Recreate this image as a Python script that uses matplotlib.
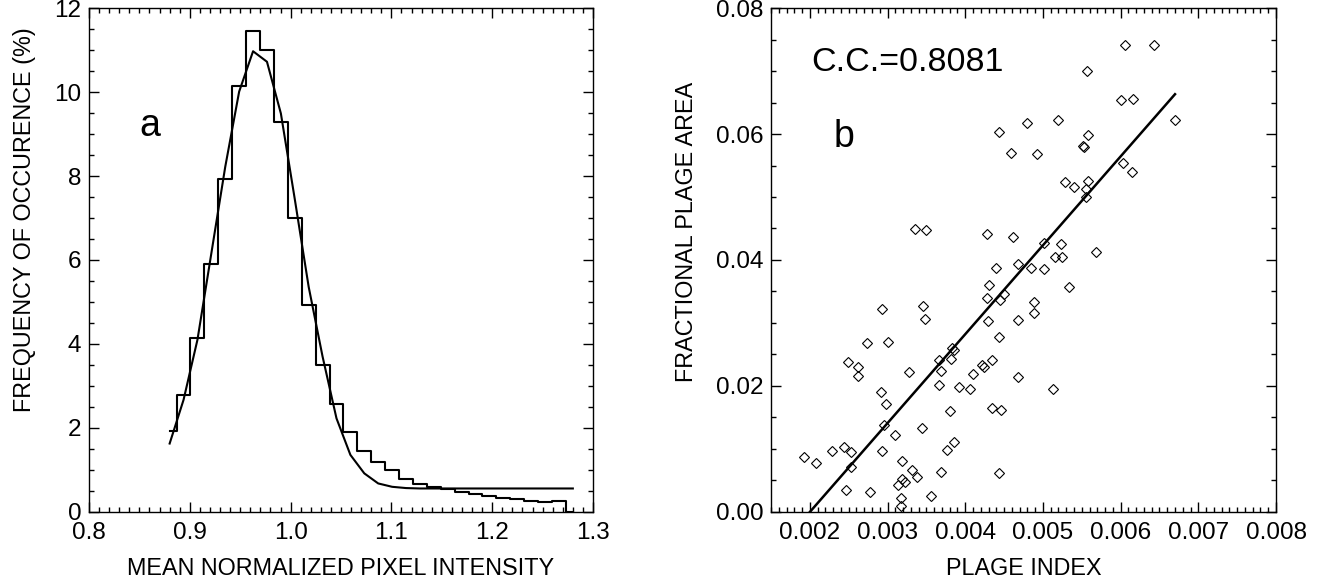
import numpy as np
import matplotlib
matplotlib.use("Agg")
import matplotlib.pyplot as plt
from matplotlib.ticker import MultipleLocator, FormatStrFormatter

plt.rcParams['font.family'] = ['Liberation Sans', 'DejaVu Sans']

# panel a: histogram of mean normalized pixel intensity (30 bins, 0.88 .. 1.28)
intensity = np.linspace(0.88, 1.28, 30)
freq = [1.93, 2.79, 4.15, 5.90, 7.92, 10.15, 11.45, 11.00, 9.29, 7.00,
        4.93, 3.50, 2.57, 1.90, 1.46, 1.20, 0.99, 0.78, 0.67, 0.59,
        0.55, 0.48, 0.42, 0.37, 0.33, 0.30, 0.25, 0.23, 0.25, 0.0]
freq_fit = [1.63, 2.67, 4.10, 6.16, 8.22, 10.01, 10.97, 10.72, 9.49, 7.45,
            5.36, 3.70, 2.23, 1.36, 0.92, 0.68, 0.60, 0.57, 0.56, 0.56,
            0.56, 0.56, 0.56, 0.56, 0.56, 0.56, 0.56, 0.56, 0.56, 0.56]

# panel b: fractional plage area vs plage index
plage_index = [0.00444, 0.00480, 0.00520, 0.00459, 0.00492, 0.00551, 0.00529, 0.00540,
               0.00335, 0.00350, 0.00428, 0.00461, 0.00501, 0.00523, 0.00468, 0.00439,
               0.00485, 0.00502, 0.00516, 0.00525, 0.00606, 0.00643, 0.00557, 0.00600,
               0.00616, 0.00670, 0.00558, 0.00553, 0.00603, 0.00615, 0.00558, 0.00555,
               0.00555, 0.00568, 0.00431, 0.00533, 0.00428, 0.00445, 0.00450, 0.00293,
               0.00346, 0.00348, 0.00488, 0.00489, 0.00468, 0.00429, 0.00444, 0.00274,
               0.00301, 0.00383, 0.00386, 0.00366, 0.00382, 0.00249, 0.00262, 0.00262,
               0.00327, 0.00369, 0.00410, 0.00421, 0.00424, 0.00434, 0.00468, 0.00513,
               0.00366, 0.00392, 0.00406, 0.00292, 0.00298, 0.00380, 0.00435, 0.00446,
               0.00295, 0.00344, 0.00309, 0.00385, 0.00376, 0.00193, 0.00208, 0.00229,
               0.00244, 0.00253, 0.00253, 0.00293, 0.00318, 0.00332, 0.00338, 0.00319,
               0.00322, 0.00314, 0.00369, 0.00443, 0.00247, 0.00277, 0.00356, 0.00317,
               0.00317]
plage_area = [0.0603, 0.0617, 0.0622, 0.0570, 0.0568, 0.0581, 0.0524, 0.0516,
              0.0449, 0.0448, 0.0441, 0.0437, 0.0427, 0.0426, 0.0394, 0.0388,
              0.0388, 0.0386, 0.0405, 0.0404, 0.0741, 0.0742, 0.0700, 0.0654,
              0.0656, 0.0623, 0.0598, 0.0580, 0.0554, 0.0539, 0.0525, 0.0512,
              0.0500, 0.0413, 0.0361, 0.0357, 0.0340, 0.0337, 0.0346, 0.0322,
              0.0327, 0.0306, 0.0333, 0.0316, 0.0305, 0.0303, 0.0278, 0.0268,
              0.0270, 0.0261, 0.0257, 0.0241, 0.0243, 0.0238, 0.0230, 0.0216,
              0.0222, 0.0224, 0.0219, 0.0233, 0.0230, 0.0241, 0.0215, 0.0196,
              0.0201, 0.0198, 0.0195, 0.0190, 0.0171, 0.0161, 0.0165, 0.0162,
              0.0138, 0.0134, 0.0123, 0.0111, 0.0099, 0.0088, 0.0077, 0.0097,
              0.0103, 0.0095, 0.0072, 0.0097, 0.0081, 0.0067, 0.0055, 0.0052,
              0.0047, 0.0043, 0.0063, 0.0062, 0.0035, 0.0032, 0.0026, 0.0022,
              0.0010]
fit_slope = 14.11
fit_intercept = -0.02822
cc_label = "C.C.=0.8081"

fig = plt.figure(figsize=(13.25, 5.84), dpi=100)
ax1 = fig.add_axes([0.06717, 0.12329, 0.38038, 0.86301])
ax2 = fig.add_axes([0.58189, 0.12329, 0.38113, 0.86301])

ax1.step(intensity, freq, where='mid', color='k', lw=1.5)
ax1.plot(intensity, freq_fit, color='k', lw=1.5)
ax1.set_xlim(0.8, 1.3)
ax1.set_ylim(0, 12)
ax1.xaxis.set_major_locator(MultipleLocator(0.1))
ax1.xaxis.set_minor_locator(MultipleLocator(0.01))
ax1.yaxis.set_major_locator(MultipleLocator(2))
ax1.yaxis.set_minor_locator(MultipleLocator(0.5))
ax1.xaxis.set_major_formatter(FormatStrFormatter('%.1f'))
ax1.yaxis.set_major_formatter(FormatStrFormatter('%d'))
ax1.set_xlabel("MEAN NORMALIZED PIXEL INTENSITY", fontsize=16.8)
ax1.set_ylabel("FREQUENCY OF OCCURENCE (%)", fontsize=16.8)
ax1.xaxis.set_label_coords(0.5, -0.09)
ax1.yaxis.set_label_coords(-0.105, 0.581)
ax1.text(0.850, 8.96, "a", fontsize=27)

x = np.array(plage_index)
ax2.plot(x, plage_area, 'D', ms=4.7, mfc='none', mec='k', mew=0.8)
xx = np.array([x.min(), x.max()])
ax2.plot(xx, fit_slope * xx + fit_intercept, color='k', lw=1.8)
ax2.set_xlim(0.0015, 0.008)
ax2.set_ylim(0, 0.08)
ax2.xaxis.set_major_locator(MultipleLocator(0.001))
ax2.xaxis.set_minor_locator(MultipleLocator(0.0001))
ax2.yaxis.set_major_locator(MultipleLocator(0.02))
ax2.yaxis.set_minor_locator(MultipleLocator(0.005))
ax2.xaxis.set_major_formatter(FormatStrFormatter('%.3f'))
ax2.yaxis.set_major_formatter(FormatStrFormatter('%.2f'))
ax2.set_xlabel("PLAGE INDEX", fontsize=16.8)
ax2.set_ylabel("FRACTIONAL PLAGE AREA", fontsize=16.8)
ax2.xaxis.set_label_coords(0.5, -0.09)
ax2.yaxis.set_label_coords(-0.145, 0.556)
ax2.text(0.002311, 0.05789, "b", fontsize=27)
ax2.text(0.002015, 0.07005, cc_label, fontsize=24.5)

for ax in (ax1, ax2):
    ax.tick_params(which='both', direction='in', top=True, right=True,
                   width=1, labelsize=17.5)
    ax.tick_params(which='major', length=7.2)
    ax.tick_params(which='minor', length=3.6)
    ax.tick_params(axis='x', pad=7.5)
    ax.tick_params(axis='y', pad=5.5)
    for s in ax.spines.values():
        s.set_linewidth(1)

fig.savefig("out.png", dpi=100)
